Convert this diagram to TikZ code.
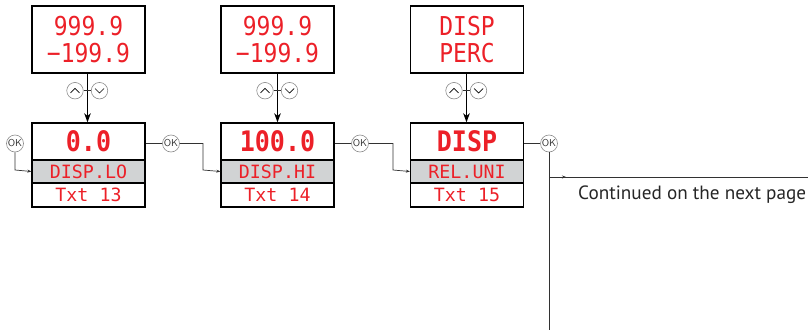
\documentclass[tikz,border=0pt]{standalone}
\usepackage{fontspec}
\setmainfont{PT Sans}
\newfontfamily\lcd{DejaVu Sans Mono}
\usetikzlibrary{arrows.meta,calc}
\definecolor{lcdred}{RGB}{236,32,40}
\definecolor{panelgray}{RGB}{209,211,212}
\definecolor{wire}{RGB}{50,50,50}
\definecolor{ringgray}{RGB}{140,140,140}
\newcommand{\tallA}[1]{\scalebox{1}[1.13]{#1}}
\tikzset{
  topbox/.style={draw=black, line width=1.3pt, minimum width=113pt, minimum height=67pt, inner sep=0pt,
    align=center, text=lcdred, font=\lcd\fontsize{23}{26.5}\selectfont},
  mainsec/.style={draw=black, line width=1.3pt, minimum width=113pt, minimum height=37pt, inner sep=0pt,
    text=lcdred, font=\lcd\bfseries\fontsize{25}{28}\selectfont},
  labsec/.style={draw=black, line width=1.3pt, fill=panelgray, minimum width=113pt, minimum height=23pt, inner sep=0pt,
    text=lcdred, font=\lcd\fontsize{18.3}{20}\selectfont},
  txtsec/.style={draw=black, line width=1.3pt, minimum width=113pt, minimum height=24pt, inner sep=0pt,
    text=lcdred, font=\lcd\fontsize{18.3}{20}\selectfont},
  okbtn/.style={circle, draw=ringgray, line width=0.6pt, fill=white, minimum size=17pt, inner sep=0pt,
    font=\sffamily\fontsize{10}{10}\selectfont, text=wire},
  keybtn/.style={circle, draw=ringgray, line width=0.6pt, fill=white, minimum size=16.5pt, inner sep=0pt},
  wireline/.style={draw=wire, line width=0.7pt},
  feed/.style={wireline, -{Stealth[length=4pt,width=3pt]}},
  bigarrow/.style={draw=black, line width=1.2pt, -{Stealth[length=9pt,width=6.5pt,inset=2.5pt]}}
}
\begin{document}
\begin{tikzpicture}[x=1pt,y=-1pt]
\useasboundingbox (0,0) rectangle (808,332);
% ---- column 1
\node[topbox] (t1) at (88.5,39.5) {\tallA{999.9}\\\tallA{−199.9}};
\node[mainsec] (m1) at (88.5,141.5) {\tallA{0.0}};
\node[labsec] (l1) at (88.5,171.5) {DISP.LO};
\node[txtsec] (x1) at (88.5,195) {Txt 13};
% ---- column 2
\node[topbox] (t2) at (277.5,39.5) {\tallA{999.9}\\\tallA{−199.9}};
\node[mainsec] (m2) at (277.5,141.5) {\tallA{100.0}};
\node[labsec] (l2) at (277.5,171.5) {DISP.HI};
\node[txtsec] (x2) at (277.5,195) {Txt 14};
% ---- column 3
\node[topbox] (t3) at (467,39.5) {\tallA{DISP}\\\tallA{PERC}};
\node[mainsec] (m3) at (467,141.5) {\tallA{DISP}};
\node[labsec] (l3) at (467,171.5) {REL.UNI};
\node[txtsec] (x3) at (467,195) {Txt 15};
% ---- up/down arrows
\foreach \i/\cx in {1/87.5,2/277.5,3/466.5}{
  \draw[bigarrow] (t\i.south -| \cx,0) -- (m\i.north -| \cx,0);
  \node[keybtn] (u\i) at (\cx-12.5,90.7) {};
  \node[keybtn] (d\i) at (\cx+12,90.7) {};
  \draw[wireline] (u\i.east) -- (d\i.west);
  \draw[draw=black, line width=0.7pt] ($(u\i)+(-4.5,2.2)$) -- ($(u\i)+(0,-2.3)$) -- ($(u\i)+(4.5,2.2)$);
  \draw[draw=black, line width=0.7pt] ($(d\i)+(-4.5,-2.2)$) -- ($(d\i)+(0,2.3)$) -- ($(d\i)+(4.5,-2.2)$);
}
% ---- OK buttons and wiring
\node[okbtn] (ok0) at (15,143.5) {OK};
\node[okbtn] (ok1) at (171,143.5) {OK};
\node[okbtn] (ok2) at (360,143.5) {OK};
\node[okbtn] (ok3) at (549,143.5) {OK};
\coordinate (c0) at (15,170);
\draw[feed] (ok0.south) -- (c0) -- (l1.west);
\draw[wireline] (m1.east |- ok1) -- (ok1.west);
\coordinate (c1a) at (203,143.5);
\coordinate (c1b) at (203,170);
\draw[feed] (ok1.east) -- (c1a) -- (c1b) -- (l2.west);
\draw[wireline] (m2.east |- ok2) -- (ok2.west);
\coordinate (c2a) at (393,143.5);
\coordinate (c2b) at (393,170);
\draw[feed] (ok2.east) -- (c2a) -- (c2b) -- (l3.west);
\draw[wireline] (m3.east |- ok3) -- (ok3.west);
\coordinate (vb) at (549,330);
\coordinate (br) at (549,177);
\coordinate (bm) at (566,177);
\coordinate (be) at (808,177);
\draw[wireline] (ok3.south) -- (vb);
\draw[wireline] (br) -- (be);
\draw[feed] (br) -- (bm);
\node[anchor=base west, inner sep=0pt, font=\fontsize{19.2}{20}\selectfont, text=black!85] (cont) at (578,199) {Continued on the next page};
\end{tikzpicture}
\end{document}
